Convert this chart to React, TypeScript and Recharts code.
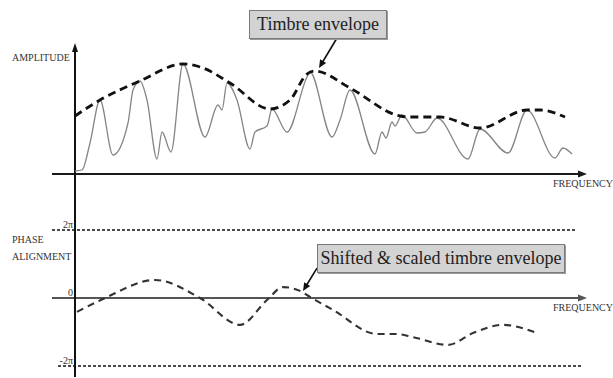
import { ComposedChart, Line, XAxis, YAxis, ReferenceLine, ReferenceDot } from 'recharts';

// frequency axis runs 0..100, amplitude in arbitrary units, phase in multiples of pi
const envFreq = [0, 5, 13, 21.6, 25.6, 31, 39, 43, 46.4, 48, 55, 65, 67, 73, 81, 90.4, 93, 98];
const envAmp = [58, 74, 93, 110, 106, 91, 65, 74, 100, 103, 86, 58, 57, 57, 46, 64, 64, 57];

const specFreq = [
  0, 1.4, 3, 5, 7.6, 10.6, 11.6, 13, 14.4, 16.4, 17.4, 19.2, 21.6, 26, 28.6, 29.4, 30.4, 32.4, 35, 36, 38.4, 39.4,
  42.4, 46.4, 47, 51.4, 53, 55, 60, 61.4, 62.2, 63.4, 64, 65.4, 68.4, 70, 72.4, 78.6, 81, 86.6, 90.4, 96, 97.6, 99.4,
];
const specAmp = [
  3, 4, 31, 74, 19, 51, 84, 93, 74, 15, 42, 22, 110, 37, 69, 64, 91, 74, 25, 42, 48, 65,
  42, 97, 102, 37, 54, 84, 20, 42, 36, 52, 48, 59, 41, 42, 56, 15, 45, 21, 64, 16, 26, 20,
];

const phaseFreq = [0.4, 5.6, 16, 25, 33, 38.4, 41.6, 45, 47, 51.6, 60.4, 64.4, 67.6, 74.6, 79.6, 85.6, 92.4];
const phaseVal = [-0.41, -0.03, 0.53, 0, -0.79, -0.06, 0.32, 0.21, 0.03, -0.35, -1.06, -1.06, -1.15, -1.38, -1.03, -0.79, -1.03];

const phaseTicks = [2, 0, -2];
const phaseTickLabels = ['2π', '0', '-2π'];

const envelope = envFreq.map((f, i) => ({ f, a: envAmp[i] }));
const spectrum = specFreq.map((f, i) => ({ f, a: specAmp[i] }));
const phase = phaseFreq.map((f, i) => ({ f, p: phaseVal[i] }));

const serif = "'Liberation Serif', 'DejaVu Serif', serif";
const xDomain = [-4.6, 102.4];

function arrow(color: string, width: number, head = 9, half = 3.5) {
  return (props: any) => {
    const { x1, y1, x2, y2 } = props;
    const dx = x2 - x1;
    const dy = y2 - y1;
    const len = Math.sqrt(dx * dx + dy * dy) || 1;
    const ux = dx / len;
    const uy = dy / len;
    const bx = x2 - ux * head;
    const by = y2 - uy * head;
    return (
      <g>
        <line x1={x1} y1={y1} x2={bx + ux} y2={by + uy} stroke={color} strokeWidth={width} />
        <polygon
          points={`${x2},${y2} ${bx - uy * half},${by + ux * half} ${bx + uy * half},${by - ux * half}`}
          fill={color}
        />
      </g>
    );
  };
}

function tickLabel(text: string) {
  return (props: any) => {
    const { viewBox } = props;
    return (
      <text x={viewBox.x} y={viewBox.y - 2} textAnchor="end" fontFamily={serif} fontSize={10} fill="#333">
        {text}
      </text>
    );
  };
}

const boxStyle: React.CSSProperties = {
  position: 'absolute',
  background: '#d3d3d3',
  border: '1px solid #7a7a7a',
  boxShadow: '1px 1px 0 #9a9a9a',
  fontFamily: serif,
  fontSize: 18,
  color: '#222',
  textAlign: 'center',
  lineHeight: '27px',
  boxSizing: 'border-box',
  whiteSpace: 'nowrap',
};

const smallLabel: React.CSSProperties = {
  position: 'absolute',
  fontFamily: serif,
  fontSize: 10,
  color: '#333',
  lineHeight: '11px',
  whiteSpace: 'nowrap',
};

export default function App() {
  return (
    <div style={{ position: 'absolute', left: 0, top: 0, width: 613, height: 378, background: '#fff', overflow: 'hidden' }}>
      <div style={{ position: 'absolute', left: 0, top: 0 }}>
        <ComposedChart width={613} height={190} margin={{ top: 43, right: 26, bottom: 0, left: 52 }}>
          <XAxis type="number" dataKey="f" domain={xDomain} allowDataOverflow hide />
          <YAxis type="number" domain={[-16, 131]} allowDataOverflow hide />
          <ReferenceLine segment={[{ x: -4.6, y: 0 }, { x: 102.4, y: 0 }]} ifOverflow="visible" shape={arrow('#1a1a1a', 2)} />
          <ReferenceLine segment={[{ x: 0, y: -16 }, { x: 0, y: 131 }]} ifOverflow="visible" shape={arrow('#111', 2, 9, 3)} />
          <Line
            data={spectrum}
            dataKey="a"
            type="monotone"
            stroke="#858585"
            strokeWidth={1.3}
            dot={false}
            isAnimationActive={false}
          />
          <Line
            data={envelope}
            dataKey="a"
            type="monotone"
            stroke="#111"
            strokeWidth={2.8}
            strokeDasharray="8 5"
            dot={false}
            isAnimationActive={false}
          />
          <ReferenceLine segment={[{ x: 52.4, y: 136 }, { x: 48.8, y: 106 }]} ifOverflow="visible" shape={arrow('#111', 1.6, 8, 3.5)} />
        </ComposedChart>
      </div>
      <div style={{ position: 'absolute', left: 0, top: 190 }}>
        <ComposedChart width={613} height={188} margin={{ top: 0, right: 26, bottom: 0, left: 52 }}>
          <XAxis type="number" dataKey="f" domain={xDomain} allowDataOverflow hide />
          <YAxis type="number" domain={[-2.353, 3.176]} allowDataOverflow hide />
          <ReferenceLine segment={[{ x: -4.6, y: 2 }, { x: 100.4, y: 2 }]} ifOverflow="visible" stroke="#111" strokeWidth={1.3} strokeDasharray="3 2" />
          <ReferenceLine segment={[{ x: -3.4, y: -2 }, { x: 101.4, y: -2 }]} ifOverflow="visible" stroke="#111" strokeWidth={1.3} strokeDasharray="3 2" />
          <ReferenceLine segment={[{ x: -4.6, y: 0 }, { x: 102.4, y: 0 }]} ifOverflow="visible" shape={arrow('#555', 2.2)} />
          <ReferenceLine segment={[{ x: 0, y: -2.32 }, { x: 0, y: 3.176 }]} ifOverflow="visible" stroke="#111" strokeWidth={2} />
          {phaseTicks.map((t, i) => (
            <ReferenceDot
              key={t}
              x={-0.4}
              y={t}
              r={0}
              fill="none"
              stroke="none"
              ifOverflow="visible"
              label={tickLabel(phaseTickLabels[i])}
            />
          ))}
          <Line
            data={phase}
            dataKey="p"
            type="monotone"
            stroke="#333"
            strokeWidth={2.1}
            strokeDasharray="7 5"
            dot={false}
            isAnimationActive={false}
          />
          <ReferenceLine segment={[{ x: 48.4, y: 0.88 }, { x: 45.6, y: 0.206 }]} ifOverflow="visible" shape={arrow('#111', 1.6, 8, 3.5)} />
        </ComposedChart>
      </div>

      <div style={{ ...boxStyle, left: 249, top: 10, width: 138, height: 29 }}>Timbre envelope</div>
      <div style={{ ...boxStyle, left: 317, top: 244, width: 248, height: 29 }}>Shifted &amp; scaled timbre envelope</div>

      <div style={{ ...smallLabel, left: 12, top: 52 }}>AMPLITUDE</div>
      <div style={{ ...smallLabel, left: 553, top: 178 }}>FREQUENCY</div>
      <div style={{ ...smallLabel, left: 12, top: 234 }}>PHASE</div>
      <div style={{ ...smallLabel, left: 12, top: 251 }}>ALIGNMENT</div>
      <div style={{ ...smallLabel, left: 553, top: 302 }}>FREQUENCY</div>
    </div>
  );
}
